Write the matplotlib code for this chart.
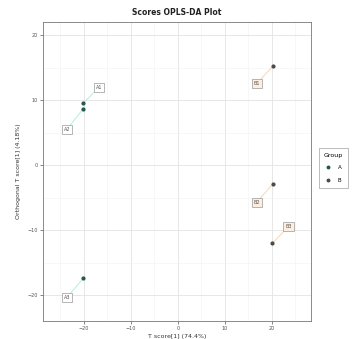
import numpy as np
import matplotlib
matplotlib.use("Agg")
import matplotlib.pyplot as plt
from matplotlib.lines import Line2D

plt.rcParams["font.family"] = "DejaVu Sans"

# scores
groups = ["A", "B"]
samples = ["A1", "A2", "A3", "B1", "B2", "B3"]
group_of = ["A", "A", "A", "B", "B", "B"]
t_score = [-20.2, -20.2, -20.1, 20.2, 20.2, 20.1]
to_score = [9.5, 8.6, -17.4, 15.2, -2.9, -12.0]
# label positions (ggrepel-like offsets)
lab_x = [-16.8, -23.6, -23.6, 16.8, 16.8, 23.5]
lab_y = [11.9, 5.5, -20.4, 12.6, -5.7, -9.5]

point_colors = {"A": "#24584f", "B": "#4a4a4a"}
seg_colors = {"A": "#b5eee4", "B": "#f9d6b4"}
box_fill = {"A": "#ffffff", "B": "#fdeee0"}

fig = plt.figure(figsize=(3.55, 3.39), dpi=100)
ax = fig.add_axes([0.121, 0.053, 0.755, 0.882])

for i, s in enumerate(samples):
    g = group_of[i]
    ax.plot([t_score[i], lab_x[i]], [to_score[i], lab_y[i]], color=seg_colors[g], lw=0.7, zorder=2)
    ax.text(lab_x[i], lab_y[i], s, fontsize=3.5, color="#555555", ha="center", va="center", zorder=4,
            bbox=dict(boxstyle="square,pad=0.4", fc=box_fill[g], ec="#999999", lw=0.5))
    ax.scatter(t_score[i], to_score[i], s=4, color=point_colors[g], zorder=3)

ax.set_xlim(-28.7, 28.3)
ax.set_ylim(-24, 22)
ax.set_xticks([-20, -10, 0, 10, 20])
ax.set_yticks([-20, -10, 0, 10, 20])
ax.set_xticks([-25, -15, -5, 5, 15, 25], minor=True)
ax.set_yticks([-15, -5, 5, 15], minor=True)
ax.tick_params(which="major", labelsize=3.5, length=2, width=0.5, colors="#555555", labelcolor="#555555", pad=1.5)
ax.tick_params(which="minor", length=0)
ax.grid(which="major", color="#e3e3e3", lw=0.6)
ax.grid(which="minor", color="#f2f2f2", lw=0.4)
ax.set_axisbelow(True)
for sp in ax.spines.values():
    sp.set_color("#777777")
    sp.set_linewidth(0.6)

ax.set_title("Scores OPLS-DA Plot", fontsize=5.5, color="#222222", pad=5, fontweight="bold")
ax.set_xlabel("T score[1] (74.4%)", fontsize=4.5, color="#333333", labelpad=2)
ax.set_ylabel("Orthogonal T score[1] (4.18%)", fontsize=4.5, color="#333333", labelpad=5)

handles = [Line2D([], [], marker="o", ls="", ms=1.8, color=point_colors[g]) for g in groups]
leg = fig.legend(handles, groups, title="Group", loc="center left", bbox_to_anchor=(0.89, 0.505),
                 fontsize=4, title_fontsize=4.5, frameon=True, edgecolor="#888888", fancybox=False,
                 handletextpad=1.2, borderpad=0.9, labelspacing=1.4, handlelength=1)
leg.get_frame().set_linewidth(0.5)

fig.savefig("out.png", dpi=100)
